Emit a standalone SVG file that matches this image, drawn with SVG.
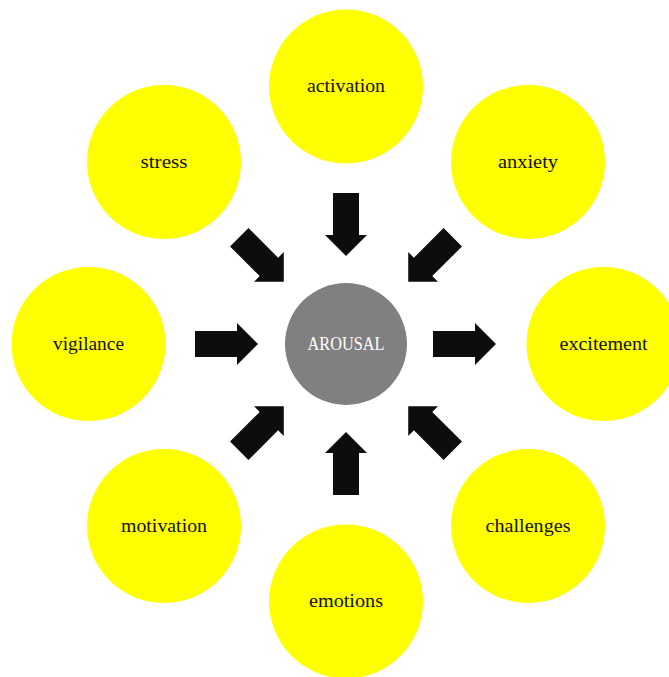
<svg xmlns="http://www.w3.org/2000/svg" width="669" height="677" viewBox="0 0 669 677">
<style>
.node{fill:#ffff00}
.hub{fill:#808080}
.lbl{font-family:"Liberation Serif","DejaVu Serif",serif;font-size:18px;fill:#111;text-anchor:middle}
.hublbl{font-family:"Liberation Serif","DejaVu Serif",serif;font-size:18px;fill:#ffffff;text-anchor:middle}
.arr{fill:#0d0d0d}
</style>
<defs>
<path id="inArrow" d="M -151 -13 L -109 -13 L -109 -21 L -88 0 L -109 21 L -109 13 L -151 13 Z"/>
<path id="outArrow" d="M 87 -13 L 129 -13 L 129 -21 L 150 0 L 129 21 L 129 13 L 87 13 Z"/>
</defs>
<rect width="669" height="677" fill="#ffffff"/>
<g id="connectors" class="arr" transform="translate(346,344)">
<use href="#inArrow" transform="rotate(90)"/>
<use href="#inArrow" transform="rotate(45)"/>
<use href="#inArrow" transform="rotate(135)"/>
<use href="#inArrow"/>
<use href="#outArrow"/>
<use href="#inArrow" transform="rotate(-45)"/>
<use href="#inArrow" transform="rotate(-135)"/>
<use href="#inArrow" transform="rotate(-90)"/>
</g>
<g id="arousal"><circle class="hub" cx="346" cy="344" r="61"/><text class="hublbl" x="346" y="350" textLength="77" lengthAdjust="spacingAndGlyphs">AROUSAL</text></g>
<g id="activation"><circle class="node" cx="346" cy="86.5" r="77"/><text class="lbl" x="346" y="92" textLength="78" lengthAdjust="spacingAndGlyphs">activation</text></g>
<g id="stress"><circle class="node" cx="164" cy="162" r="77"/><text class="lbl" x="164" y="168" textLength="47" lengthAdjust="spacingAndGlyphs">stress</text></g>
<g id="anxiety"><circle class="node" cx="528" cy="162" r="77"/><text class="lbl" x="528" y="168" textLength="60" lengthAdjust="spacingAndGlyphs">anxiety</text></g>
<g id="vigilance"><circle class="node" cx="88.5" cy="344" r="77"/><text class="lbl" x="88.5" y="350" textLength="71" lengthAdjust="spacingAndGlyphs">vigilance</text></g>
<g id="excitement"><circle class="node" cx="603.5" cy="344" r="77"/><text class="lbl" x="603.5" y="350" textLength="88" lengthAdjust="spacingAndGlyphs">excitement</text></g>
<g id="motivation"><circle class="node" cx="164" cy="526" r="77"/><text class="lbl" x="164" y="532" textLength="86" lengthAdjust="spacingAndGlyphs">motivation</text></g>
<g id="emotions"><circle class="node" cx="346" cy="601.5" r="77"/><text class="lbl" x="346" y="607" textLength="74" lengthAdjust="spacingAndGlyphs">emotions</text></g>
<g id="challenges"><circle class="node" cx="528" cy="526" r="77"/><text class="lbl" x="528" y="532" textLength="85" lengthAdjust="spacingAndGlyphs">challenges</text></g>
</svg>
